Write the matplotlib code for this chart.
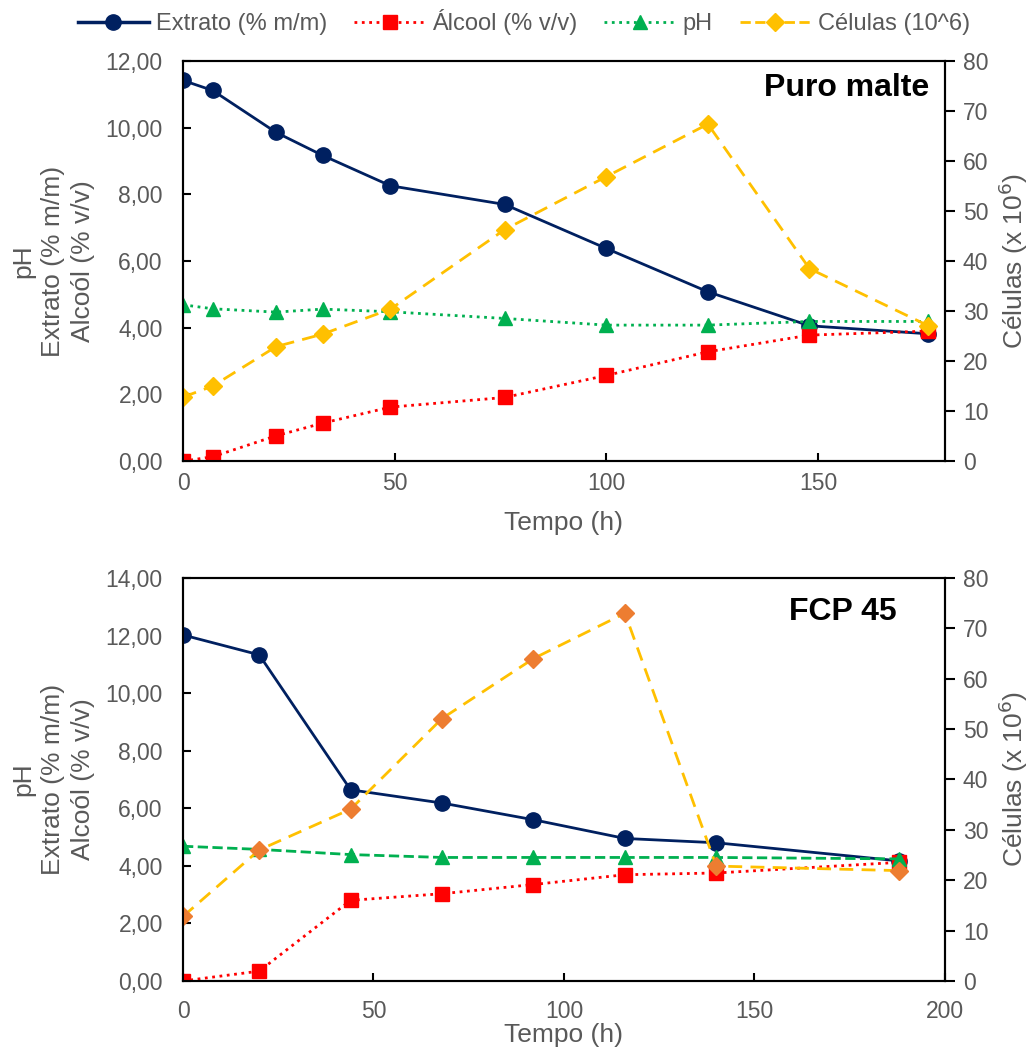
import matplotlib.pyplot as plt
from matplotlib.ticker import FuncFormatter
from matplotlib.lines import Line2D

plt.rcParams['font.family'] = ['Liberation Sans', 'DejaVu Sans']

# Puro malte
t1 = [0, 7, 22, 33, 49, 76, 100, 124, 148, 176]
extrato1 = [11.42, 11.12, 9.86, 9.17, 8.26, 7.70, 6.38, 5.08, 4.06, 3.82]
alcool1 = [0.0, 0.13, 0.76, 1.14, 1.62, 1.91, 2.57, 3.28, 3.78, 3.90]
ph1 = [4.69, 4.57, 4.47, 4.56, 4.48, 4.28, 4.08, 4.08, 4.19, 4.19]
cel1 = [12.8, 15.0, 22.9, 25.4, 30.4, 46.3, 56.9, 67.4, 38.5, 27.1]

# FCP 45
t2 = [0, 20, 44, 68, 92, 116, 140, 188]
extrato2 = [12.02, 11.33, 6.64, 6.18, 5.60, 4.95, 4.80, 4.17]
alcool2 = [0.0, 0.34, 2.80, 3.03, 3.35, 3.69, 3.75, 4.12]
ph2 = [4.68, 4.57, 4.39, 4.29, 4.29, 4.29, 4.29, 4.24]
cel2 = [12.8, 26.0, 34.1, 52.1, 64.0, 73.0, 22.8, 21.9]

NAVY, RED, GREEN, YELLOW, ORANGE = '#002060', '#FF0000', '#00B050', '#FFC000', '#ED7D31'
GRAY = '#595959'

fig = plt.figure(figsize=(10.31, 10.48), dpi=100)
ax1 = fig.add_axes([0.1775, 0.560, 0.739, 0.3817])
ax3 = fig.add_axes([0.1775, 0.064, 0.739, 0.3845])

virg = FuncFormatter(lambda v, p: f'{v:.2f}'.replace('.', ','))


def painel(ax, t, ext, alc, ph, cel, ph_ls, cel_mc, ymax, xmax, xticks,
           nome, nome_x, nome_y, xpad, xlabpad):
    ax.plot(t, ext, '-', color=NAVY, lw=2, marker='o', ms=11, zorder=3)
    ax.plot(t, alc, ':', color=RED, lw=2, marker='s', ms=10.5, zorder=4)
    ax.plot(t, ph, ph_ls, color=GREEN, lw=2, marker='^', ms=10.5, zorder=5)
    ax.set_xlim(0, xmax)
    ax.set_ylim(0, ymax)
    ax.set_xticks(xticks)
    ax.set_yticks(range(0, ymax + 1, 2))
    ax.yaxis.set_major_formatter(virg)
    ax.tick_params(direction='in', length=6, width=1.5, labelsize=16.5,
                   labelcolor=GRAY)
    ax.tick_params(axis='y', pad=14.5)
    ax.tick_params(axis='x', pad=xpad)
    for s in ax.spines.values():
        s.set_linewidth(1.5)
    ax.set_xlabel('Tempo (h)', fontsize=19, color=GRAY, labelpad=xlabpad)
    ax.set_ylabel('pH\nExtrato (% m/m)\nAlcoól (% v/v)', fontsize=19,
                  color=GRAY, labelpad=8, linespacing=1.3)
    ax.text(nome_x, nome_y, nome, transform=ax.transAxes, ha='right',
            va='center', fontsize=23, fontweight='bold')

    ax2 = ax.twinx()
    ax2.plot(t, cel, '--', color=YELLOW, lw=2, marker='D', ms=9.5,
             mfc=cel_mc, mec=cel_mc, dashes=(5, 3))
    ax2.set_ylim(0, 80)
    ax2.set_yticks(range(0, 81, 10))
    ax2.tick_params(direction='out', length=7, width=1.5, labelsize=16.5,
                    labelcolor=GRAY, pad=6)
    for s in ax2.spines.values():
        s.set_linewidth(1.5)
    ax2.set_ylabel('Células (x 10$^6$)', fontsize=19, color=GRAY, labelpad=6)


painel(ax1, t1, extrato1, alcool1, ph1, cel1, ':', YELLOW, 12, 180,
       [0, 50, 100, 150], 'Puro malte', 0.98, 0.9325, 8, 11)
painel(ax3, t2, extrato2, alcool2, ph2, cel2, '--', ORANGE, 14, 200,
       [0, 50, 100, 150, 200], 'FCP 45', 0.937, 0.916, 14, 0)

handles = [
    Line2D([], [], color=NAVY, ls='-', lw=2.5, marker='o', ms=11),
    Line2D([], [], color=RED, ls=':', lw=2, marker='s', ms=10.5),
    Line2D([], [], color=GREEN, ls=':', lw=2, marker='^', ms=10.5),
    Line2D([], [], color=YELLOW, ls='--', lw=2, marker='D', ms=9.5),
]
labels = ['Extrato (% m/m)', 'Álcool (% v/v)', 'pH', 'Células (10^6)']
leg = fig.legend(handles, labels, loc='center', bbox_to_anchor=(0.508, 0.979),
                 ncol=4, frameon=False, fontsize=17, handlelength=3.0,
                 columnspacing=1.15, handletextpad=0.3)
for txt in leg.get_texts():
    txt.set_color(GRAY)

fig.savefig('out.png', dpi=100)
